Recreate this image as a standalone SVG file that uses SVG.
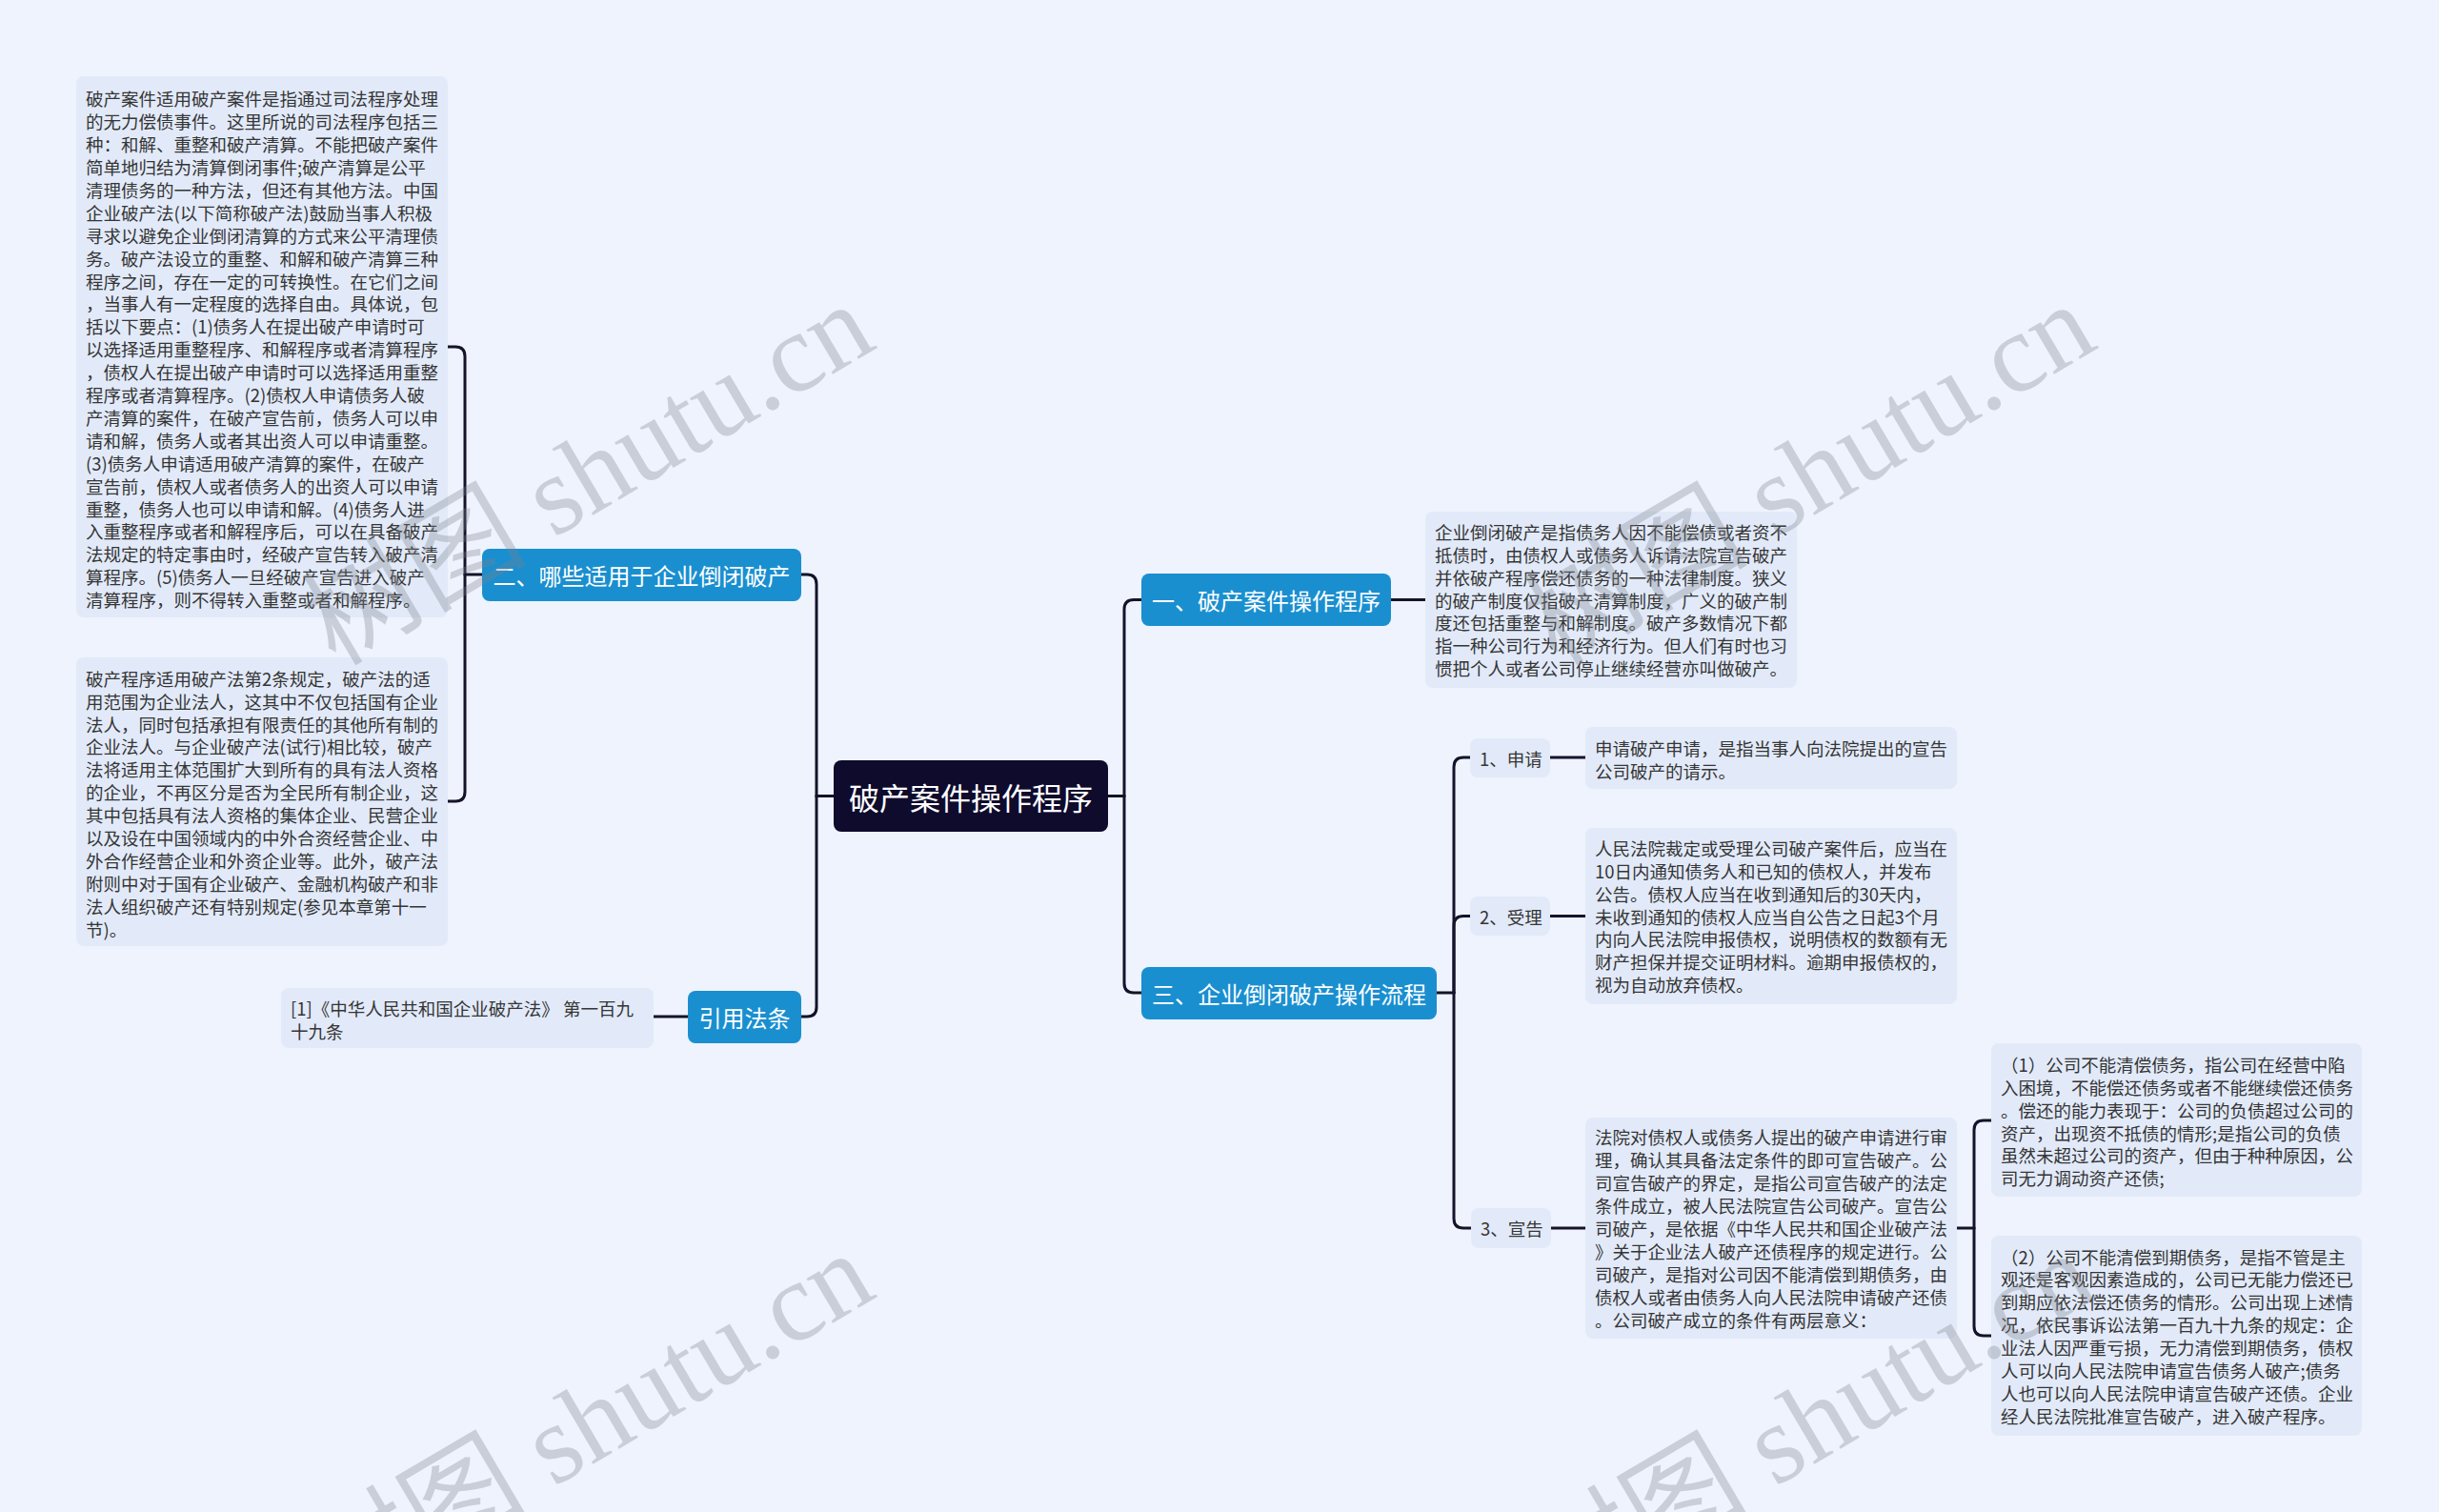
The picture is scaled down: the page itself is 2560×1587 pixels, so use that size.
<svg xmlns="http://www.w3.org/2000/svg" width="2560" height="1587" viewBox="0 0 2560 1587">
<style>
.bg{fill:#eef3fd}
.tb{fill:#e2eaf9}
.sub{fill:#e2eaf9}
.blue{fill:#1a8fd0}
.root{fill:#0e0b2d}
.t{font-family:"Noto Sans CJK SC","Noto Sans",sans-serif;font-size:18.5px;fill:#353535;dominant-baseline:central}
.tw{font-family:"Noto Sans CJK SC","Noto Sans",sans-serif;font-size:24px;fill:#ffffff;dominant-baseline:central;text-anchor:middle}
.tr{font-family:"Noto Sans CJK SC","Noto Sans",sans-serif;font-size:32px;fill:#ffffff;dominant-baseline:central;text-anchor:middle}
.c{fill:none;stroke:#15132b;stroke-width:3;stroke-linecap:round}
.wm{font-family:"Liberation Serif","Noto Sans CJK SC",serif;font-size:118px;fill:#7d828c;opacity:0.32}
</style>
<rect class="bg" x="0" y="0" width="2560" height="1587"/>

<g id="connectors">
<path class="c" d="M875,835.5 H857"/>
<path class="c" d="M857,835.5 V613 Q857,603 847,603 H841"/>
<path class="c" d="M857,835.5 V1057 Q857,1067 847,1067 H841"/>
<path class="c" d="M506,603 H488"/>
<path class="c" d="M488,603 V374 Q488,364 478,364 H470"/>
<path class="c" d="M488,603 V831 Q488,841 478,841 H470"/>
<path class="c" d="M722,1067 H686"/>
<path class="c" d="M1163,835.5 H1180"/>
<path class="c" d="M1180,835.5 V639.5 Q1180,629.5 1190,629.5 H1198"/>
<path class="c" d="M1180,835.5 V1032 Q1180,1042 1190,1042 H1198"/>
<path class="c" d="M1460,629.5 H1496"/>
<path class="c" d="M1508,1042 H1526"/>
<path class="c" d="M1526,1042 V805 Q1526,795 1536,795 H1543"/>
<path class="c" d="M1526,1042 V971.5 Q1526,961.5 1536,961.5 H1543"/>
<path class="c" d="M1526,1042 V1279 Q1526,1289 1536,1289 H1544"/>
<path class="c" d="M1627,795 H1664"/>
<path class="c" d="M1627,961.5 H1664"/>
<path class="c" d="M1628,1289 H1664"/>
<path class="c" d="M2054,1289 H2072"/>
<path class="c" d="M2072,1289 V1186 Q2072,1176 2082,1176 H2090"/>
<path class="c" d="M2072,1289 V1392 Q2072,1402 2082,1402 H2090"/>
</g>

<g id="root">
<rect class="root" x="875" y="798" width="288" height="75" rx="8"/>
<text class="tr" x="1019" y="835.5">破产案件操作程序</text>
</g>

<g id="n2">
<rect class="blue" x="506" y="576" width="335" height="55" rx="8"/>
<text class="tw" x="673.5" y="603">二、哪些适用于企业倒闭破产</text>
</g>

<g id="n2a">
<rect class="tb" x="80" y="80" width="390" height="568" rx="8"/>
<text class="t">
<tspan x="90" y="103.3">破产案件适用破产案件是指通过司法程序处理</tspan>
<tspan x="90" y="127.2">的无力偿债事件。这里所说的司法程序包括三</tspan>
<tspan x="90" y="151.1">种：和解、重整和破产清算。不能把破产案件</tspan>
<tspan x="90" y="175">简单地归结为清算倒闭事件;破产清算是公平</tspan>
<tspan x="90" y="198.9">清理债务的一种方法，但还有其他方法。中国</tspan>
<tspan x="90" y="222.8">企业破产法(以下简称破产法)鼓励当事人积极</tspan>
<tspan x="90" y="246.7">寻求以避免企业倒闭清算的方式来公平清理债</tspan>
<tspan x="90" y="270.6">务。破产法设立的重整、和解和破产清算三种</tspan>
<tspan x="90" y="294.5">程序之间，存在一定的可转换性。在它们之间</tspan>
<tspan x="90" y="318.4">，当事人有一定程度的选择自由。具体说，包</tspan>
<tspan x="90" y="342.3">括以下要点：(1)债务人在提出破产申请时可</tspan>
<tspan x="90" y="366.2">以选择适用重整程序、和解程序或者清算程序</tspan>
<tspan x="90" y="390.1">，债权人在提出破产申请时可以选择适用重整</tspan>
<tspan x="90" y="414">程序或者清算程序。(2)债权人申请债务人破</tspan>
<tspan x="90" y="437.9">产清算的案件，在破产宣告前，债务人可以申</tspan>
<tspan x="90" y="461.8">请和解，债务人或者其出资人可以申请重整。</tspan>
<tspan x="90" y="485.7">(3)债务人申请适用破产清算的案件，在破产</tspan>
<tspan x="90" y="509.6">宣告前，债权人或者债务人的出资人可以申请</tspan>
<tspan x="90" y="533.5">重整，债务人也可以申请和解。(4)债务人进</tspan>
<tspan x="90" y="557.4">入重整程序或者和解程序后，可以在具备破产</tspan>
<tspan x="90" y="581.3">法规定的特定事由时，经破产宣告转入破产清</tspan>
<tspan x="90" y="605.2">算程序。(5)债务人一旦经破产宣告进入破产</tspan>
<tspan x="90" y="629.1">清算程序，则不得转入重整或者和解程序。</tspan>
</text>
</g>

<g id="n2b">
<rect class="tb" x="80" y="690" width="390" height="303" rx="8"/>
<text class="t">
<tspan x="90" y="711.7">破产程序适用破产法第2条规定，破产法的适</tspan>
<tspan x="90" y="735.6">用范围为企业法人，这其中不仅包括国有企业</tspan>
<tspan x="90" y="759.5">法人，同时包括承担有限责任的其他所有制的</tspan>
<tspan x="90" y="783.4">企业法人。与企业破产法(试行)相比较，破产</tspan>
<tspan x="90" y="807.3">法将适用主体范围扩大到所有的具有法人资格</tspan>
<tspan x="90" y="831.2">的企业，不再区分是否为全民所有制企业，这</tspan>
<tspan x="90" y="855.1">其中包括具有法人资格的集体企业、民营企业</tspan>
<tspan x="90" y="879">以及设在中国领域内的中外合资经营企业、中</tspan>
<tspan x="90" y="902.9">外合作经营企业和外资企业等。此外，破产法</tspan>
<tspan x="90" y="926.8">附则中对于国有企业破产、金融机构破产和非</tspan>
<tspan x="90" y="950.7">法人组织破产还有特别规定(参见本章第十一</tspan>
<tspan x="90" y="974.6">节)。</tspan>
</text>
</g>

<g id="n4">
<rect class="blue" x="722" y="1040" width="119" height="55" rx="8"/>
<text class="tw" x="781.5" y="1067.5">引用法条</text>
</g>

<g id="n4a">
<rect class="tb" x="295" y="1037" width="391" height="63" rx="8"/>
<text class="t">
<tspan x="305" y="1057.6">[1]《中华人民共和国企业破产法》 第一百九</tspan>
<tspan x="305" y="1081.5">十九条</tspan>
</text>
</g>

<g id="n1">
<rect class="blue" x="1198" y="602" width="262" height="55" rx="8"/>
<text class="tw" x="1329" y="629.5">一、破产案件操作程序</text>
</g>

<g id="n1a">
<rect class="tb" x="1496" y="537" width="390" height="185" rx="8"/>
<text class="t">
<tspan x="1506" y="557.8">企业倒闭破产是指债务人因不能偿债或者资不</tspan>
<tspan x="1506" y="581.7">抵债时，由债权人或债务人诉请法院宣告破产</tspan>
<tspan x="1506" y="605.6">并依破产程序偿还债务的一种法律制度。狭义</tspan>
<tspan x="1506" y="629.5">的破产制度仅指破产清算制度，广义的破产制</tspan>
<tspan x="1506" y="653.4">度还包括重整与和解制度。破产多数情况下都</tspan>
<tspan x="1506" y="677.3">指一种公司行为和经济行为。但人们有时也习</tspan>
<tspan x="1506" y="701.2">惯把个人或者公司停止继续经营亦叫做破产。</tspan>
</text>
</g>

<g id="n3">
<rect class="blue" x="1198" y="1015" width="310" height="55" rx="8"/>
<text class="tw" x="1353" y="1042.5">三、企业倒闭破产操作流程</text>
</g>

<g id="n31">
<rect class="sub" x="1543" y="775" width="84" height="41" rx="8"/>
<text class="t" x="1553" y="795.5">1、申请</text>
</g>
<g id="n31a">
<rect class="tb" x="1664" y="763" width="390" height="65" rx="8"/>
<text class="t">
<tspan x="1674" y="785">申请破产申请，是指当事人向法院提出的宣告</tspan>
<tspan x="1674" y="808.9">公司破产的请示。</tspan>
</text>
</g>

<g id="n32">
<rect class="sub" x="1543" y="941" width="84" height="41" rx="8"/>
<text class="t" x="1553" y="961.5">2、受理</text>
</g>
<g id="n32a">
<rect class="tb" x="1664" y="869" width="390" height="185" rx="8"/>
<text class="t">
<tspan x="1674" y="889.8">人民法院裁定或受理公司破产案件后，应当在</tspan>
<tspan x="1674" y="913.7">10日内通知债务人和已知的债权人，并发布</tspan>
<tspan x="1674" y="937.6">公告。债权人应当在收到通知后的30天内，</tspan>
<tspan x="1674" y="961.5">未收到通知的债权人应当自公告之日起3个月</tspan>
<tspan x="1674" y="985.4">内向人民法院申报债权，说明债权的数额有无</tspan>
<tspan x="1674" y="1009.3">财产担保并提交证明材料。逾期申报债权的，</tspan>
<tspan x="1674" y="1033.2">视为自动放弃债权。</tspan>
</text>
</g>

<g id="n33">
<rect class="sub" x="1544" y="1268" width="84" height="42" rx="8"/>
<text class="t" x="1554" y="1289">3、宣告</text>
</g>
<g id="n33a">
<rect class="tb" x="1664" y="1173" width="390" height="232" rx="8"/>
<text class="t">
<tspan x="1674" y="1193.4">法院对债权人或债务人提出的破产申请进行审</tspan>
<tspan x="1674" y="1217.3">理，确认其具备法定条件的即可宣告破产。公</tspan>
<tspan x="1674" y="1241.2">司宣告破产的界定，是指公司宣告破产的法定</tspan>
<tspan x="1674" y="1265.1">条件成立，被人民法院宣告公司破产。宣告公</tspan>
<tspan x="1674" y="1289">司破产，是依据《中华人民共和国企业破产法</tspan>
<tspan x="1674" y="1312.9">》关于企业法人破产还债程序的规定进行。公</tspan>
<tspan x="1674" y="1336.8">司破产，是指对公司因不能清偿到期债务，由</tspan>
<tspan x="1674" y="1360.7">债权人或者由债务人向人民法院申请破产还债</tspan>
<tspan x="1674" y="1384.6">。公司破产成立的条件有两层意义：</tspan>
</text>
</g>

<g id="n331">
<rect class="tb" x="2090" y="1095" width="389" height="161" rx="8"/>
<text class="t">
<tspan x="2100" y="1116.8">（1）公司不能清偿债务，指公司在经营中陷</tspan>
<tspan x="2100" y="1140.7">入困境，不能偿还债务或者不能继续偿还债务</tspan>
<tspan x="2100" y="1164.6">。偿还的能力表现于：公司的负债超过公司的</tspan>
<tspan x="2100" y="1188.5">资产，出现资不抵债的情形;是指公司的负债</tspan>
<tspan x="2100" y="1212.4">虽然未超过公司的资产，但由于种种原因，公</tspan>
<tspan x="2100" y="1236.3">司无力调动资产还债;</tspan>
</text>
</g>

<g id="n332">
<rect class="tb" x="2090" y="1297" width="389" height="210" rx="8"/>
<text class="t">
<tspan x="2100" y="1318.5">（2）公司不能清偿到期债务，是指不管是主</tspan>
<tspan x="2100" y="1342.4">观还是客观因素造成的，公司已无能力偿还已</tspan>
<tspan x="2100" y="1366.3">到期应依法偿还债务的情形。公司出现上述情</tspan>
<tspan x="2100" y="1390.2">况，依民事诉讼法第一百九十九条的规定：企</tspan>
<tspan x="2100" y="1414.1">业法人因严重亏损，无力清偿到期债务，债权</tspan>
<tspan x="2100" y="1438">人可以向人民法院申请宣告债务人破产;债务</tspan>
<tspan x="2100" y="1461.9">人也可以向人民法院申请宣告破产还债。企业</tspan>
<tspan x="2100" y="1485.8">经人民法院批准宣告破产，进入破产程序。</tspan>
</text>
</g>

<g id="watermarks">
<text class="wm" transform="translate(352,700) rotate(-30.5)">树图 shutu.cn</text>
<text class="wm" transform="translate(1634,700) rotate(-30.5)">树图 shutu.cn</text>
<text class="wm" transform="translate(352,1696) rotate(-30.5)">树图 shutu.cn</text>
<text class="wm" transform="translate(1634,1696) rotate(-30.5)">树图 shutu.cn</text>
</g>
</svg>
